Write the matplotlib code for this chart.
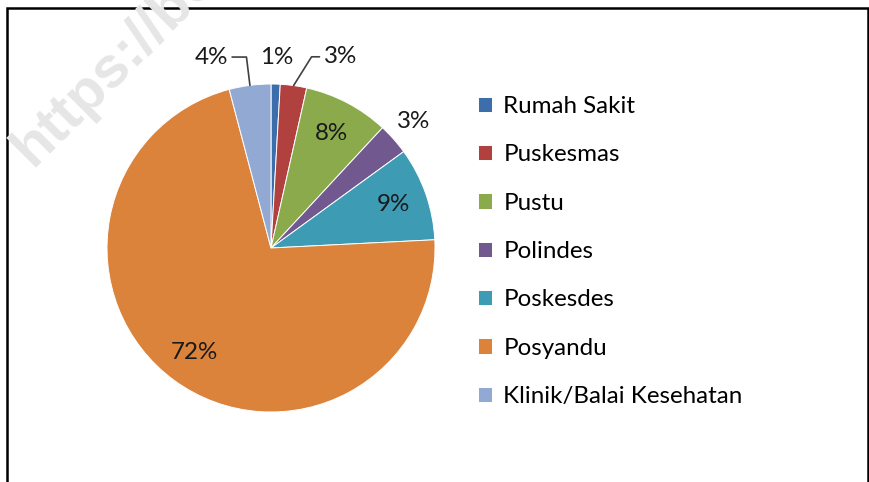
import matplotlib.pyplot as plt
import numpy as np
from matplotlib.patches import Rectangle

# share of each type of health facility (percent)
names = ["Rumah Sakit", "Puskesmas", "Pustu", "Polindes",
         "Poskesdes", "Posyandu", "Klinik/Balai Kesehatan"]
shares = [0.9, 2.6, 8.4, 3.1, 9.2, 71.7, 4.1]
pct_labels = ["1%", "3%", "8%", "3%", "9%", "72%", "4%"]
colors = ["#3C6EAB", "#B0413E", "#8AAA4C", "#71588F",
          "#3E9BB4", "#DB823B", "#92A9D3"]

plt.rcParams['font.family'] = ['Lato', 'DejaVu Sans']
FONT = 17.4
W, H = 870, 482  # figure size in pixels

fig = plt.figure(figsize=(W / 100, H / 100), dpi=100)

# pie axes: centre (271, 248) px, radius 164 px
cx, cy, r = 271, 248, 164
ax = plt.axes([(cx - r) / W, (H - cy - r) / H, 2 * r / W, 2 * r / H])
wedges, _ = plt.pie(shares, colors=colors, startangle=90, counterclock=False,
                    wedgeprops=dict(edgecolor="white", linewidth=0.7))
plt.xlim(-1, 1)
plt.ylim(-1, 1)

inside = [2, 4, 5]  # labels drawn inside the slice
# outside labels: (radius, angle nudge in deg, leader angle or None)
outside = {0: (1.165, 0, None), 3: (1.165, 0, None),
           1: (1.24, -12, 58), 6: (1.22, 10, 97)}

for i, w in enumerate(wedges):
    mid = np.deg2rad((w.theta1 + w.theta2) / 2)
    if i in inside:
        plt.text(0.79 * np.cos(mid), 0.79 * np.sin(mid), pct_labels[i],
                 ha="center", va="center", fontsize=FONT, color="#1a1a1a")
        continue
    rad, nudge, lead = outside[i]
    ang = mid + np.deg2rad(nudge)
    tx, ty = rad * np.cos(ang), rad * np.sin(ang)
    if lead is None:
        plt.text(tx, ty, pct_labels[i], ha="center", va="center",
                 fontsize=FONT, color="#1a1a1a")
    else:
        plt.annotate(pct_labels[i], xy=(np.cos(mid), np.sin(mid)), xytext=(tx, ty),
                     ha="center", va="center", fontsize=FONT, color="#1a1a1a",
                     annotation_clip=False,
                     arrowprops=dict(arrowstyle="-", color="#404040", lw=1.2,
                                     shrinkA=1, shrinkB=0,
                                     connectionstyle=f"angle,angleA=0,angleB={lead},rad=0"))

plt.legend(wedges, names, loc="upper left", frameon=False, fontsize=FONT,
           bbox_to_anchor=(478 / W, 1 - 96 / H), bbox_transform=fig.transFigure,
           borderpad=0, borderaxespad=0, handlelength=0.6, handleheight=0.6,
           handletextpad=0.45, labelspacing=1.13)

# outer frame of the picture
fig.patches.append(Rectangle((7 / W, -0.1), 861 / W, 1.1 - 8 / H, fill=False,
                             edgecolor="black", lw=1.8, transform=fig.transFigure))

# faint watermark
fig.text(32 / W, 1 - 168 / H, "https://bo", rotation=45, rotation_mode="anchor",
         ha="left", va="baseline", fontsize=42, fontweight="bold",
         family="Liberation Sans", color="#e6e6e6", zorder=10)

plt.savefig("out.png", dpi=100)
